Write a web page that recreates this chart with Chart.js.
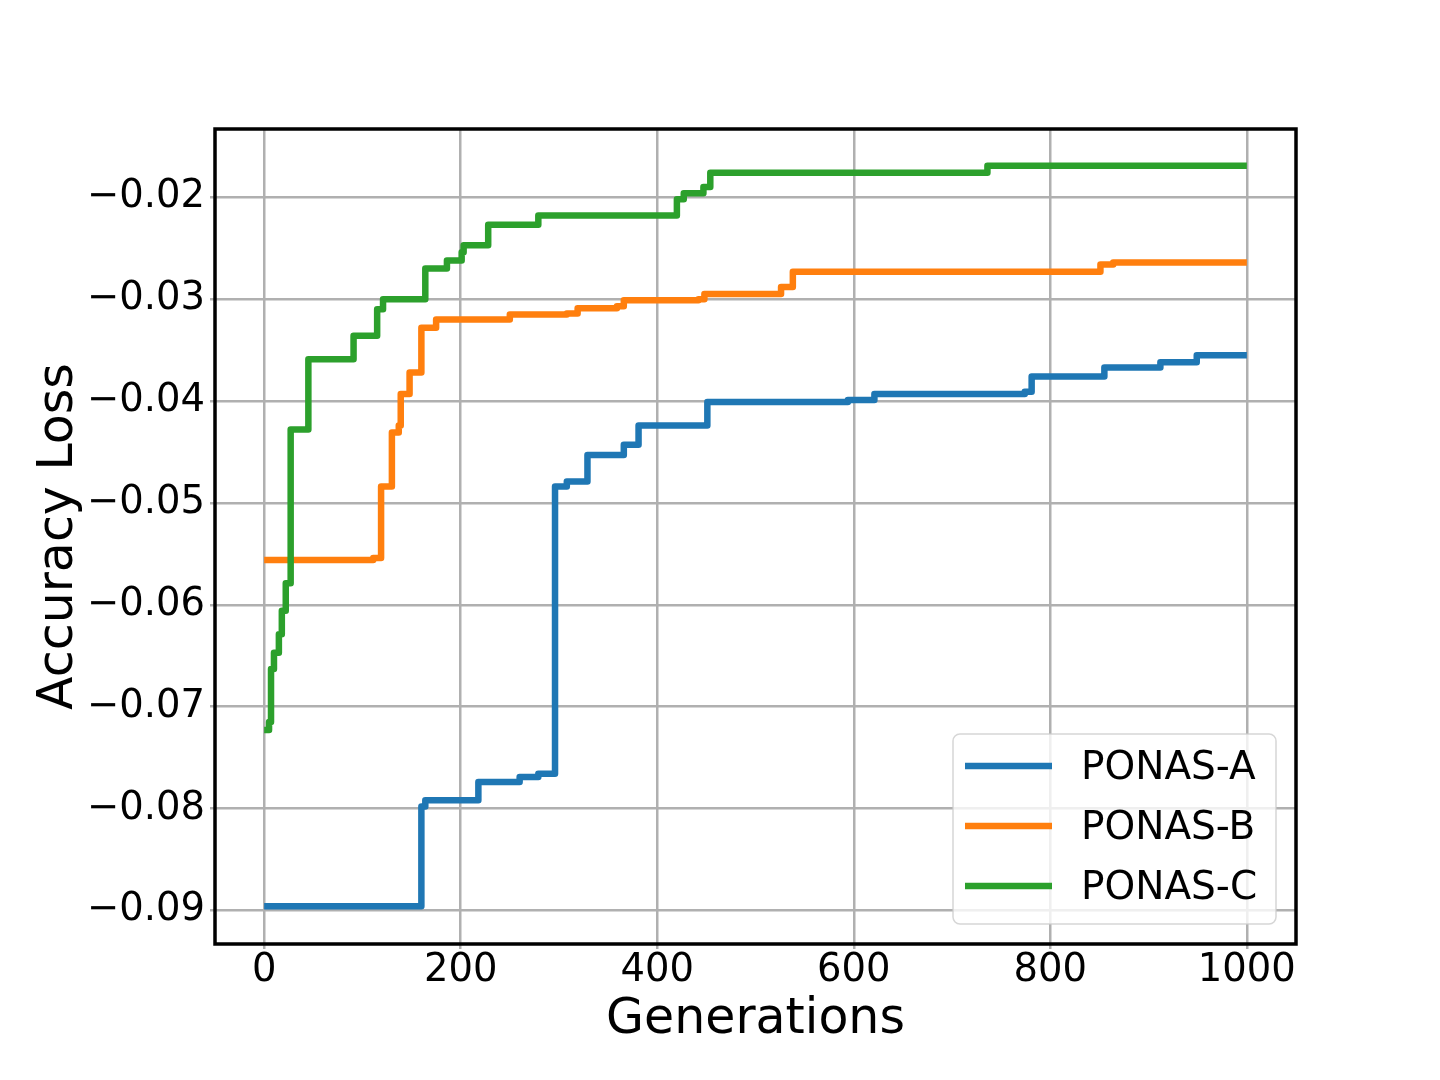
<!DOCTYPE html>
<html>
<head>
<meta charset="utf-8">
<script src="https://cdn.jsdelivr.net/npm/chart.js@4.4.1/dist/chart.umd.min.js"></script>
<style>
  html, body { margin: 0; padding: 0; background: #ffffff; }
  #wrap { width: 1440px; height: 1080px; }
</style>
</head>
<body>
<div id="wrap"><canvas id="myChart" width="1440" height="1080"></canvas></div>
<script>
// generation at which the best value changes, and the new value
const genA  = [0, 160, 164, 218, 260, 279, 296, 308, 329, 366, 381, 451, 594, 621, 774, 781, 855, 912, 949, 1000];
const lossA = [-0.0896, -0.0798, -0.0792, -0.0774, -0.0769, -0.0766, -0.0484, -0.0479, -0.0453, -0.0443,
               -0.0424, -0.0401, -0.0399, -0.0393, -0.0391, -0.0376, -0.0367, -0.0362, -0.0355, -0.0355];

const genB  = [0, 111, 119, 130, 137, 139, 148, 160, 175, 250, 308, 319, 359, 366, 442, 448, 526, 538, 851, 864, 1000];
const lossB = [-0.0556, -0.0554, -0.0484, -0.0431, -0.0424, -0.0393, -0.0372, -0.0328, -0.0320, -0.0315,
               -0.0314, -0.0309, -0.0307, -0.0301, -0.0300, -0.0295, -0.0288, -0.0273, -0.0266, -0.0264, -0.0264];

const genC  = [0, 5, 7, 10, 15, 18, 22, 27, 45, 91, 115, 121, 164, 186, 201, 203, 228, 279, 420, 427, 447, 454, 736, 1000];
const lossC = [-0.0723, -0.0715, -0.0663, -0.0647, -0.0629, -0.0606, -0.0579, -0.0428, -0.0359, -0.0336,
               -0.0310, -0.0300, -0.0270, -0.0262, -0.0254, -0.0247, -0.0227, -0.0218, -0.0202, -0.0196,
               -0.0190, -0.0176, -0.0169, -0.0169];

const seriesNames = ['PONAS-A', 'PONAS-B', 'PONAS-C'];
const seriesColors = ['#1f77b4', '#ff7f0e', '#2ca02c'];
const xTicks = [0, 200, 400, 600, 800, 1000];
const yTicks = [-0.09, -0.08, -0.07, -0.06, -0.05, -0.04, -0.03, -0.02];

const FONT = 'DejaVu Sans';
const GRID = '#b0b0b0';

function toPoints(xs, ys) {
    return xs.map((x, i) => ({x: x, y: ys[i]}));
}

function minusLabel(v) {
    return (v < 0 ? '\u2212' : '') + Math.abs(v).toFixed(2);
}

// black frame round the plot area
const frame = {
    id: 'frame',
    afterDatasetsDraw(chart) {
        const {ctx, chartArea: a} = chart;
        ctx.save();
        ctx.strokeStyle = '#000000';
        ctx.lineWidth = 3.5;
        ctx.strokeRect(a.left, a.top, a.right - a.left, a.bottom - a.top);
        ctx.restore();
    }
};

// matplotlib-like legend in the lower right corner
const boxLegend = {
    id: 'boxLegend',
    afterDraw(chart) {
        const {ctx, chartArea: a} = chart;
        const w = 323, h = 190;
        const left = a.right - 20 - w;
        const top = a.bottom - 20 - h;
        ctx.save();
        ctx.beginPath();
        ctx.roundRect(left, top, w, h, 7);
        ctx.fillStyle = 'rgba(255,255,255,0.8)';
        ctx.fill();
        ctx.strokeStyle = 'rgba(204,204,204,0.8)';
        ctx.lineWidth = 1.5;
        ctx.stroke();
        ctx.font = '39px "' + FONT + '"';
        ctx.textBaseline = 'middle';
        ctx.textAlign = 'left';
        chart.data.datasets.forEach((ds, i) => {
            const y = top + 32 + i * 60;
            ctx.beginPath();
            ctx.moveTo(left + 12, y);
            ctx.lineTo(left + 99, y);
            ctx.strokeStyle = ds.borderColor;
            ctx.lineWidth = 6.5;
            ctx.stroke();
            ctx.fillStyle = '#000000';
            ctx.fillText(ds.label, left + 128, y + 3);
        });
        ctx.restore();
    }
};

const ctx = document.getElementById('myChart');

const chart = new Chart(ctx, {
    type: 'line',
    data: {
        datasets: [
            {label: seriesNames[0], data: toPoints(genA, lossA), borderColor: seriesColors[0], order: 3},
            {label: seriesNames[1], data: toPoints(genB, lossB), borderColor: seriesColors[1], order: 2},
            {label: seriesNames[2], data: toPoints(genC, lossC), borderColor: seriesColors[2], order: 1}
        ]
    },
    options: {
        responsive: false,
        animation: false,
        devicePixelRatio: 1,
        layout: {padding: {left: 0, top: 129, right: 144, bottom: 0}},
        elements: {
            line: {borderWidth: 6.5, stepped: true, fill: false, borderJoinStyle: 'round', borderCapStyle: 'butt'},
            point: {radius: 0, hoverRadius: 0}
        },
        plugins: {
            legend: {display: false},
            tooltip: {enabled: false}
        },
        scales: {
            x: {
                type: 'linear',
                min: -50,
                max: 1050,
                afterBuildTicks: s => { s.ticks = xTicks.map(v => ({value: v})); },
                afterFit: s => { s.height = 136; },
                grid: {color: GRID, lineWidth: 2.5, tickLength: 5, tickColor: GRID},
                border: {display: false},
                ticks: {
                    color: '#000000',
                    padding: 3,
                    maxRotation: 0,
                    font: {family: FONT, size: 38.5, lineHeight: 1},
                    callback: v => String(v)
                },
                title: {
                    display: true,
                    text: 'Generations',
                    color: '#000000',
                    font: {family: FONT, size: 49, lineHeight: 1.2},
                    padding: {top: 0, bottom: 30}
                }
            },
            y: {
                type: 'linear',
                min: -0.0933,
                max: -0.0133,
                afterBuildTicks: s => { s.ticks = yTicks.map(v => ({value: v})); },
                afterFit: s => { s.width = 215; },
                grid: {color: GRID, lineWidth: 2.5, tickLength: 5, tickColor: GRID},
                border: {display: false},
                ticks: {
                    color: '#000000',
                    padding: 5,
                    font: {family: FONT, size: 38.5, lineHeight: 1},
                    callback: v => minusLabel(v)
                },
                title: {
                    display: true,
                    text: 'Accuracy Loss',
                    color: '#000000',
                    font: {family: FONT, size: 49, lineHeight: 1.2},
                    padding: {top: 30, bottom: 0}
                }
            }
        }
    },
    plugins: [frame, boxLegend]
});
</script>
</body>
</html>
